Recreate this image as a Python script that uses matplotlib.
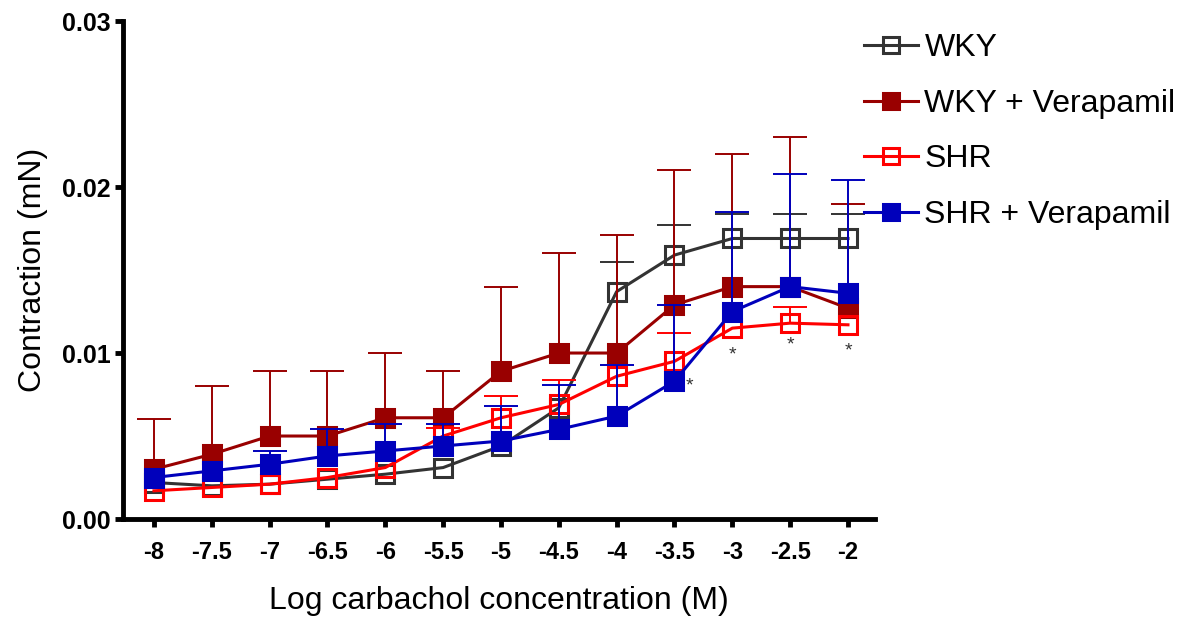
import numpy as np
import matplotlib
matplotlib.use("Agg")
import matplotlib.pyplot as plt

plt.rcParams['font.family'] = ['Liberation Sans', 'DejaVu Sans']

# Log carbachol concentration (M)
log_conc = [-8, -7.5, -7, -6.5, -6, -5.5, -5, -4.5, -4, -3.5, -3, -2.5, -2]
tick_labels = ["-8", "-7.5", "-7", "-6.5", "-6", "-5.5", "-5", "-4.5", "-4",
               "-3.5", "-3", "-2.5", "-2"]

# Mean contraction (mN)
wky = [0.0022, 0.0020, 0.0021, 0.0024, 0.0027, 0.0031, 0.0044, 0.0067,
       0.0137, 0.0159, 0.0169, 0.0169, 0.0169]
wky_ver = [0.0030, 0.0039, 0.0050, 0.0050, 0.0061, 0.0061, 0.0089, 0.0100,
           0.0100, 0.0129, 0.0140, 0.0140, 0.0127]
shr = [0.0017, 0.0019, 0.0021, 0.0025, 0.0031, 0.0050, 0.0061, 0.0069,
       0.0086, 0.0095, 0.0115, 0.0118, 0.0117]
shr_ver = [0.0025, 0.0029, 0.0033, 0.0038, 0.0041, 0.0044, 0.0047, 0.0054,
           0.0062, 0.0083, 0.0125, 0.0140, 0.0136]

# Upper ends of the error bars (mean + SEM); NaN where no bar is shown
wky_top = [np.nan, np.nan, np.nan, np.nan, np.nan, np.nan, np.nan, np.nan,
           0.0155, 0.0177, 0.0184, 0.0184, 0.0184]
wky_ver_top = [0.0060, 0.0080, 0.0089, 0.0089, 0.0100, 0.0089, 0.0140, 0.0160,
               0.0171, 0.0210, 0.0220, 0.0230, 0.0190]
shr_top = [np.nan, np.nan, np.nan, np.nan, np.nan, 0.0055, 0.0074, 0.0084,
           np.nan, 0.0112, np.nan, 0.0128, np.nan]
shr_ver_top = [np.nan, np.nan, 0.0041, 0.0054, 0.0057, 0.0057, 0.0068, 0.0081,
               0.0093, 0.0129, 0.0185, 0.0208, 0.0204]

# Significance marks
star_x = [-3.5, -3, -2.5, -2]
star_y = [0.0080, 0.0099, 0.0105, 0.0101]

series = [
    ("WKY", wky, wky_top, "#333333", "none"),
    ("WKY + Verapamil", wky_ver, wky_ver_top, "#990000", "#990000"),
    ("SHR", shr, shr_top, "#ff0000", "none"),
    ("SHR + Verapamil", shr_ver, shr_ver_top, "#0000bb", "#0000bb"),
]

fig = plt.figure(figsize=(12.02, 6.17), dpi=100)
ax = fig.add_axes([0.1023, 0.1588, 0.6256, 0.8071])

x = np.array(log_conc)
handles = []
for i, (name, mean, top, color, face) in enumerate(series):
    mean = np.array(mean)
    top = np.array(top)
    mask = ~np.isnan(top)
    up = np.clip(top[mask] - mean[mask], 0, None)
    lo = np.zeros_like(up)
    _, caps, _ = ax.errorbar(x[mask], mean[mask], yerr=[lo, up], fmt="none",
                             ecolor=color, elinewidth=1.4, capsize=12,
                             capthick=1.4, zorder=2 + i)
    # keep only the upper cap
    caps[0].set_visible(False)
    h, = ax.plot(x, mean, color=color, lw=2.2, marker="s", markersize=13,
                 markerfacecolor=face, markeredgecolor=color,
                 markeredgewidth=2.2, zorder=3 + i, label=name)
    handles.append(h)

for sx, sy in zip(star_x, star_y):
    ax.text(sx + (0.13 if sx == -3.5 else 0.0), sy, "*", ha="center",
            va="center", fontsize=14, color="#333333", zorder=10)

ax.set_xlim(-8.268, -1.767)
ax.set_ylim(0, 0.03)
ax.set_xticks(log_conc)
ax.set_xticklabels(tick_labels)
ax.set_yticks([0.0, 0.01, 0.02, 0.03])
ax.set_yticklabels(["0.00", "0.01", "0.02", "0.03"])

for s in ["top", "right"]:
    ax.spines[s].set_visible(False)
for s in ["left", "bottom"]:
    ax.spines[s].set_linewidth(3.5)
    ax.spines[s].set_color("black")

ax.tick_params(axis="both", direction="out", length=6, width=3.5,
               colors="black")
ax.tick_params(axis="x", pad=10, labelsize=17)
ax.tick_params(axis="y", pad=3, labelsize=18)
for lab in ax.get_xticklabels() + ax.get_yticklabels():
    lab.set_fontweight("bold")

ax.set_xlabel("Log carbachol concentration (M)", fontsize=23, labelpad=16)
ax.set_ylabel("Contraction (mN)", fontsize=23, labelpad=10)

leg = fig.legend(handles=handles, loc="upper left",
                 bbox_to_anchor=(0.708, 0.967), frameon=False, fontsize=23,
                 handlelength=1.7, handletextpad=0.2, labelspacing=0.8,
                 markerscale=0.85, borderaxespad=0)

fig.savefig("out.png", dpi=100)
